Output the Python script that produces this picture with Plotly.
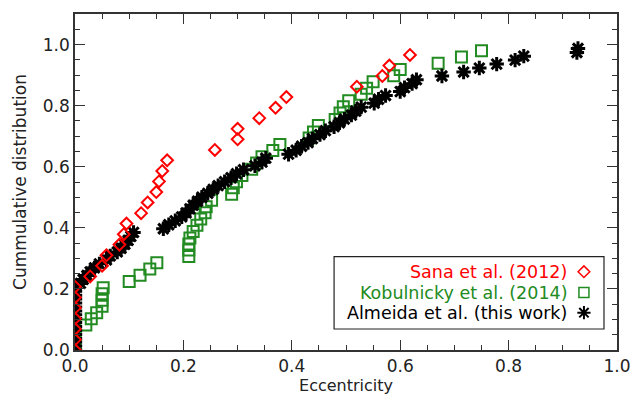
import plotly.graph_objects as go

# Sana et al. (2012)
sana_e = [0, 0, 0, 0, 0, 0, 0,
          0.028, 0.050, 0.058, 0.082, 0.090, 0.095, 0.122, 0.134, 0.150, 0.155,
          0.161, 0.170, 0.258, 0.300, 0.300, 0.340, 0.370, 0.390, 0.520, 0.567,
          0.580, 0.618]
sana_c = [0.000, 0.034, 0.069, 0.103, 0.138, 0.172, 0.207,
          0.241, 0.276, 0.310, 0.345, 0.379, 0.414, 0.448, 0.483, 0.517, 0.552,
          0.586, 0.621, 0.655, 0.690, 0.724, 0.759, 0.793, 0.828, 0.862, 0.897,
          0.931, 0.966]

# Kobulnicky et al. (2014)
kob_e = [0, 0, 0, 0, 0.020, 0.030, 0.040, 0.050, 0.050, 0.050, 0.052,
         0.100, 0.120, 0.138, 0.151, 0.210, 0.210, 0.210, 0.212, 0.218, 0.225,
         0.232, 0.240, 0.242, 0.252, 0.289, 0.292, 0.298, 0.308, 0.326, 0.335,
         0.345, 0.365, 0.378, 0.432, 0.440, 0.449, 0.480, 0.489, 0.495, 0.505,
         0.528, 0.538, 0.550, 0.588, 0.600, 0.670, 0.713, 0.750]
kob_c = [0.000, 0.020, 0.041, 0.061, 0.082, 0.102, 0.122, 0.143, 0.163, 0.184, 0.204,
         0.224, 0.245, 0.265, 0.286, 0.306, 0.327, 0.347, 0.367, 0.388, 0.408,
         0.429, 0.449, 0.469, 0.490, 0.510, 0.531, 0.551, 0.571, 0.592, 0.612,
         0.633, 0.653, 0.673, 0.694, 0.714, 0.735, 0.755, 0.776, 0.796, 0.816,
         0.837, 0.857, 0.878, 0.898, 0.918, 0.939, 0.959, 0.980]

# Almeida et al. (this work)
alm_e = [0] * 17 + [
    0.010, 0.015, 0.022, 0.028, 0.036, 0.045, 0.058, 0.065, 0.078, 0.085,
    0.092, 0.098, 0.103, 0.108, 0.163, 0.173, 0.185, 0.197, 0.205, 0.212,
    0.218, 0.226, 0.234, 0.245, 0.255, 0.264, 0.276, 0.288, 0.298, 0.311,
    0.332, 0.345, 0.352, 0.394, 0.408, 0.418, 0.430, 0.438, 0.452, 0.462,
    0.478, 0.488, 0.497, 0.510, 0.518, 0.528, 0.552, 0.560, 0.573, 0.600,
    0.608, 0.622, 0.630, 0.677, 0.717, 0.746, 0.778, 0.812, 0.828, 0.926,
    0.928]
alm_c = [0.000, 0.013, 0.026, 0.038, 0.051, 0.064, 0.077, 0.090, 0.103, 0.115,
         0.128, 0.141, 0.154, 0.167, 0.179, 0.192, 0.205,
         0.218, 0.231, 0.244, 0.256, 0.269, 0.282, 0.295, 0.308, 0.321, 0.333,
         0.346, 0.359, 0.372, 0.385, 0.397, 0.410, 0.423, 0.436, 0.449, 0.462,
         0.474, 0.487, 0.500, 0.513, 0.526, 0.538, 0.551, 0.564, 0.577, 0.590,
         0.603, 0.615, 0.628, 0.641, 0.654, 0.667, 0.679, 0.692, 0.705, 0.718,
         0.731, 0.744, 0.756, 0.769, 0.782, 0.795, 0.808, 0.821, 0.833, 0.846,
         0.859, 0.872, 0.885, 0.897, 0.910, 0.923, 0.936, 0.949, 0.962, 0.974,
         0.987]

legend_labels = ["Sana et al. (2012)", "Kobulnicky et al. (2014)", "Almeida et al. (this work)"]
colors = ["#ff0000", "#228b22", "#000000"]
x_ticks = [0.0, 0.2, 0.4, 0.6, 0.8, 1.0]
y_ticks = [0.0, 0.2, 0.4, 0.6, 0.8, 1.0]

FONT = "DejaVu Sans"
AXC = "#333333"
TXT = "#222222"

fig = go.Figure()
fig.add_trace(go.Scatter(x=kob_e, y=kob_c, mode="markers",
                         marker=dict(symbol="square-open", size=11, color=colors[1],
                                     line=dict(width=2, color=colors[1]))))
fig.add_trace(go.Scatter(x=alm_e, y=alm_c, mode="markers",
                         marker=dict(symbol="asterisk-open", size=12, color=colors[2],
                                     line=dict(width=3, color=colors[2]))))
fig.add_trace(go.Scatter(x=sana_e, y=sana_c, mode="markers",
                         marker=dict(symbol="diamond-open", size=9, color=colors[0],
                                     line=dict(width=2, color=colors[0]))))

# legend keys on an overlay axis (fractions of the plot area)
key_x = 0.939
key_y = [0.233, 0.171, 0.111]
key_sym = ["diamond-open", "square-open", "asterisk-open"]
key_size = [9, 10, 11]
for i in range(3):
    fig.add_trace(go.Scatter(x=[key_x], y=[key_y[i]], mode="markers", xaxis="x2", yaxis="y2",
                             cliponaxis=False,
                             marker=dict(symbol=key_sym[i], size=key_size[i], color=colors[i],
                                         line=dict(width=1.5 if i < 2 else 2, color=colors[i]))))
    fig.add_annotation(x=0.912, y=key_y[i], xref="paper", yref="paper", text=legend_labels[i],
                       showarrow=False, xanchor="right", yanchor="middle",
                       font=dict(family=FONT, size=17.5, color=colors[i]))

fig.add_shape(type="rect", xref="paper", yref="paper", x0=0.478, x1=0.976, y0=0.0625, y1=0.278,
              line=dict(color="#222222", width=1.2), fillcolor="rgba(0,0,0,0)")

axis_common = dict(showgrid=False, zeroline=False, showline=True, linecolor=AXC, linewidth=1.5,
                   mirror="ticks", ticks="inside", ticklen=10, tickwidth=1.2, tickcolor=AXC,
                   tickfont=dict(family=FONT, size=17, color=TXT),
                   minor=dict(ticks="inside", ticklen=5, tickwidth=1.2, tickcolor=AXC, dtick=0.05))

fig.update_layout(
    width=644, height=401,
    margin=dict(l=75, r=27, t=14, b=51),
    paper_bgcolor="white", plot_bgcolor="white",
    showlegend=False,
    xaxis=dict(range=[0, 1.0], tickvals=x_ticks, ticktext=[f"{v:.1f}" for v in x_ticks],
               title=dict(text="Eccentricity", font=dict(family=FONT, size=16, color=TXT),
                          standoff=2), **axis_common),
    yaxis=dict(range=[0, 1.1], tickvals=y_ticks, ticktext=[f"{v:.1f}" for v in y_ticks],
               title=dict(text="Cummulative distribution", font=dict(family=FONT, size=17, color=TXT),
                          standoff=12), **axis_common),
    xaxis2=dict(overlaying="x", range=[0, 1], visible=False),
    yaxis2=dict(overlaying="y", range=[0, 1], visible=False),
)

fig.write_html("out.html")
